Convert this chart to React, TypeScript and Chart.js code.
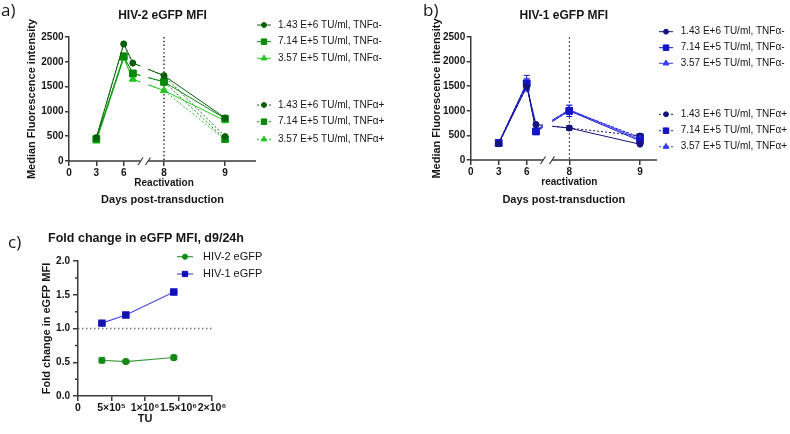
import React, { useEffect, useRef } from 'react';
import { Chart, registerables } from 'chart.js';
Chart.register(...registerables);

const FONT = "'Liberation Sans', Arial, Helvetica, sans-serif";
const AXIS = '#3a3a3a';
const TEXT = '#161616';

// ---------------- Data ----------------
const DAYS = [3, 6, 7, 8, 9];
const DAY_TICKS = [0, 3, 6, 8, 9];
const CONC_LABELS = ['1.43 E+6 TU/ml', '7.14 E+5 TU/ml', '3.57 E+5 TU/ml'];

// HIV-2 (panel a)
const HIV2_HIGH_NEG = [470, 2360, 1975, 1720, 870];
const HIV2_MID_NEG = [445, 2110, 1765, 1595, 855];
const HIV2_LOW_NEG = [405, 2075, 1650, 1420, 810];
const HIV2_HIGH_POS = [470, 2360, 1975, 1720, 495];
const HIV2_MID_POS = [445, 2110, 1765, 1595, 440];
const HIV2_LOW_POS = [405, 2075, 1650, 1420, 430];

// HIV-1 (panel b)
const HIV1_HIGH_NEG = [330, 1490, 720, 650, 320];
const HIV1_MID_NEG = [345, 1560, 580, 1000, 390];
const HIV1_LOW_NEG = [335, 1540, 610, 1020, 420];
const HIV1_HIGH_POS = [330, 1490, 720, 650, 490];
const HIV1_MID_POS = [345, 1560, 580, 1000, 465];
const HIV1_LOW_POS = [335, 1540, 610, 1020, 445];
const HIV1_HIGH_ERR = [15, 60, 30, 50, 20];
const HIV1_MID_ERR = [20, 160, 40, 115, 30];
const HIV1_LOW_ERR = [15, 120, 30, 90, 25];

// Fold change (panel c)
const FOLD_TU = [357000, 714000, 1430000];
const FOLD_HIV2 = [0.53, 0.51, 0.57];
const FOLD_HIV1 = [1.08, 1.2, 1.54];
const FOLD_HIV2_ERR = [0.04, 0.015, 0.035];
const FOLD_HIV1_ERR = [0.02, 0.015, 0.015];
const FOLD_X_TICKS = [0, 500000, 1000000, 1500000, 2000000];
const FOLD_X_LABELS = ['0', '5×10⁵', '1×10⁶', '1.5×10⁶', '2×10⁶'];

// ---------------- helpers ----------------
function drawMarker(ctx: CanvasRenderingContext2D, style: string, x: number, y: number, r: number, fill: string, stroke: string) {
  ctx.beginPath();
  if (style === 'rect') {
    const s = Math.SQRT1_2 * r;
    ctx.rect(x - s, y - s, 2 * s, 2 * s);
  } else if (style === 'triangle') {
    let rad = 0;
    ctx.moveTo(x + Math.sin(rad) * r, y - Math.cos(rad) * r);
    rad += (2 * Math.PI) / 3;
    ctx.lineTo(x + Math.sin(rad) * r, y - Math.cos(rad) * r);
    rad += (2 * Math.PI) / 3;
    ctx.lineTo(x + Math.sin(rad) * r, y - Math.cos(rad) * r);
    ctx.closePath();
  } else {
    ctx.arc(x, y, r, 0, Math.PI * 2);
  }
  ctx.fillStyle = fill;
  ctx.fill();
  ctx.strokeStyle = stroke;
  ctx.lineWidth = 1;
  ctx.stroke();
}

function drawLegend(ctx: CanvasRenderingContext2D, datasets: any[], rows: number[], x1: number, x2: number, tx: number, size: number) {
  datasets.forEach((ds, i) => {
    const y = rows[i];
    ctx.save();
    ctx.strokeStyle = ds.borderColor;
    ctx.lineWidth = ds.borderWidth;
    ctx.setLineDash(ds.borderDash || []);
    ctx.beginPath();
    ctx.moveTo(x1, y);
    ctx.lineTo(x2, y);
    ctx.stroke();
    ctx.setLineDash([]);
    drawMarker(ctx, ds.pointStyle, (x1 + x2) / 2, y, ds.pointRadius * 0.85, ds.pointBackgroundColor, ds.pointBorderColor);
    ctx.fillStyle = TEXT;
    ctx.font = `${size}px ${FONT}`;
    ctx.textBaseline = 'middle';
    ctx.textAlign = 'left';
    ctx.fillText(ds.label, tx, y);
    ctx.restore();
  });
}

function drawErrorBars(chart: any, cap: number) {
  const ctx = chart.ctx;
  const ys = chart.scales.y;
  chart.data.datasets.forEach((ds: any, i: number) => {
    const errs = ds.errorBars;
    if (!errs) return;
    const meta = chart.getDatasetMeta(i);
    ctx.save();
    ctx.strokeStyle = ds.errorColor || ds.borderColor;
    ctx.lineWidth = 1;
    meta.data.forEach((pt: any, j: number) => {
      const e = errs[j];
      if (!e) return;
      const v = ds.data[j].y;
      const y1 = ys.getPixelForValue(v + e);
      const y2 = ys.getPixelForValue(v - e);
      const x = pt.x;
      ctx.beginPath();
      ctx.moveTo(x, y1); ctx.lineTo(x, y2);
      ctx.moveTo(x - cap, y1); ctx.lineTo(x + cap, y1);
      ctx.moveTo(x - cap, y2); ctx.lineTo(x + cap, y2);
      ctx.stroke();
    });
    ctx.restore();
  });
}

interface TimePanel {
  width: number; height: number;
  area: { left: number; top: number; right: number; bottom: number };
  title: string; letter: string; letterX: number; letterY: number;
  reactLabel: string;
  colors: string[];
  series: number[][];
  errs: (number[] | null)[];
  B: number; K: number; xMax: number; gap: [number, number];
  vDash: number[]; vWidth: number;
  legendRows: number[]; legendX1: number; legendX2: number; legendTX: number;
  yTitlePad: number;
}

const PANEL_A: TimePanel = {
  width: 390, height: 215,
  area: { left: 69, top: 37, right: 256, bottom: 161 },
  title: 'HIV-2 eGFP MFI', letter: 'a)', letterX: 1, letterY: 11,
  reactLabel: 'Reactivation',
  colors: ['#0b600b', '#0a880a', '#22c822'],
  series: [HIV2_HIGH_NEG, HIV2_MID_NEG, HIV2_LOW_NEG, HIV2_HIGH_POS, HIV2_MID_POS, HIV2_LOW_POS],
  errs: [null, null, null, null, null, null],
  B: 10.42, K: 6.69, xMax: 20.5, gap: [7.84, 8.66],
  vDash: [1.4, 2.4], vWidth: 1.3,
  legendRows: [25, 41.7, 58.3, 105, 121.7, 139.3], legendX1: 257, legendX2: 271, legendTX: 278,
  yTitlePad: 25.4,
};

const PANEL_B: TimePanel = {
  width: 400, height: 215,
  area: { left: 80.7, top: 37, right: 267, bottom: 160 },
  title: 'HIV-1 eGFP MFI', letter: 'b)', letterX: 33, letterY: 11,
  reactLabel: 'reactivation',
  colors: ['#14147a', '#1414c6', '#3a3aff'],
  series: [HIV1_HIGH_NEG, HIV1_MID_NEG, HIV1_LOW_NEG, HIV1_HIGH_POS, HIV1_MID_POS, HIV1_LOW_POS],
  errs: [HIV1_HIGH_ERR, HIV1_MID_ERR, HIV1_LOW_ERR, null, null, null],
  B: 10.57, K: 7.58, xMax: 19.97, gap: [7.75, 8.71],
  vDash: [2, 2], vWidth: 0.8,
  legendRows: [31.7, 47.7, 63.3, 114.3, 130.7, 146.7], legendX1: 269, legendX2: 283, legendTX: 290.7,
  yTitlePad: 40.1,
};

function makeTimeChart(canvas: HTMLCanvasElement, o: TimePanel) {
  const map = (d: number) => (d < 7.5 ? d : o.B + (d - 8) * o.K);
  const styles = ['circle', 'rect', 'triangle'];
  const radii = [2.9, 4.6, 3.9];
  const datasets = o.series.map((vals, i) => {
    const c = o.colors[i % 3];
    return {
      label: `${CONC_LABELS[i % 3]}, TNFα${i < 3 ? '-' : '+'}`,
      data: DAYS.map((d, j) => ({ x: map(d), y: vals[j] })),
      borderColor: c,
      backgroundColor: c,
      borderWidth: 1,
      borderDash: i < 3 ? [] : [2, 2],
      pointStyle: styles[i % 3],
      pointRadius: radii[i % 3],
      pointBorderWidth: 1,
      pointBackgroundColor: c,
      pointBorderColor: c,
      errorBars: o.errs[i],
      tension: 0,
    };
  });
  const tickLabels: any[] = ['0', '3', '6', ['8', o.reactLabel], '9'];

  const plugin = {
    id: 'timePanel' + o.letter,
    beforeDatasetsDraw(chart: any) {
      const ctx = chart.ctx;
      const ca = chart.chartArea;
      const x8 = chart.scales.x.getPixelForValue(map(8));
      ctx.save();
      ctx.strokeStyle = '#111';
      ctx.lineWidth = o.vWidth;
      ctx.setLineDash(o.vDash);
      ctx.beginPath();
      ctx.moveTo(x8, ca.top);
      ctx.lineTo(x8, ca.bottom);
      ctx.stroke();
      ctx.restore();
      drawErrorBars(chart, 3);
    },
    afterDatasetsDraw(chart: any) {
      const ctx = chart.ctx;
      const ca = chart.chartArea;
      const xs = chart.scales.x;
      const g1 = xs.getPixelForValue(o.gap[0]);
      const g2 = xs.getPixelForValue(o.gap[1]);
      ctx.save();
      ctx.fillStyle = '#fff';
      ctx.fillRect(g1, ca.top - 6, g2 - g1, ca.bottom - ca.top + 7);
      ctx.strokeStyle = AXIS;
      ctx.lineWidth = 1.5;
      ctx.beginPath();
      ctx.moveTo(ca.left - 0.75, ca.bottom);
      ctx.lineTo(g1, ca.bottom);
      ctx.moveTo(g2, ca.bottom);
      ctx.lineTo(ca.right, ca.bottom);
      ctx.stroke();
      ctx.lineWidth = 1.2;
      ctx.beginPath();
      [g1, g2].forEach((g) => {
        ctx.moveTo(g - 2.5, ca.bottom + 4);
        ctx.lineTo(g + 2.5, ca.bottom - 3.5);
      });
      ctx.stroke();
      ctx.restore();
    },
    afterDraw(chart: any) {
      const ctx = chart.ctx;
      const ca = chart.chartArea;
      ctx.save();
      ctx.fillStyle = TEXT;
      ctx.textBaseline = 'middle';
      ctx.textAlign = 'center';
      ctx.font = `bold 12px ${FONT}`;
      ctx.fillText(o.title, (ca.left + ca.right) / 2, 16);
      ctx.textAlign = 'left';
      ctx.font = `17px 'Open Sans', ${FONT}`;
      ctx.fillText(o.letter, o.letterX, o.letterY);
      ctx.restore();
      drawLegend(ctx, chart.data.datasets, o.legendRows, o.legendX1, o.legendX2, o.legendTX, 10);
    },
  };

  return new Chart(canvas, {
    type: 'line',
    data: { datasets: datasets as any },
    plugins: [plugin],
    options: {
      animation: false,
      responsive: false,
      events: [],
      layout: { padding: { left: 0, top: o.area.top, right: o.width - o.area.right, bottom: 0 } },
      plugins: { legend: { display: false }, tooltip: { enabled: false }, title: { display: false } },
      scales: {
        x: {
          type: 'linear',
          min: 0,
          max: o.xMax,
          afterBuildTicks: (s: any) => {
            s.ticks = DAY_TICKS.map((d) => ({ value: map(d) }));
          },
          afterFit: (s: any) => {
            s.height = o.height - o.area.bottom;
          },
          grid: { display: true, drawOnChartArea: false, drawTicks: true, tickLength: 5, color: AXIS, lineWidth: 1.5 },
          border: { display: false },
          ticks: {
            autoSkip: false,
            maxRotation: 0,
            padding: 2,
            color: TEXT,
            font: { family: FONT, size: 10, weight: 'bold', lineHeight: 1.0 },
            callback: (_v: any, i: number) => tickLabels[i],
          },
          title: {
            display: true,
            text: 'Days post-transduction',
            color: TEXT,
            font: { family: FONT, size: 11, weight: 'bold', lineHeight: 1.2 },
            padding: { top: 0, bottom: 8.4 },
          },
        },
        y: {
          min: 0,
          max: 2500,
          afterFit: (s: any) => {
            s.width = o.area.left;
          },
          grid: { display: true, drawOnChartArea: false, drawTicks: true, tickLength: 4, color: AXIS, lineWidth: 1.5 },
          border: { display: true, color: AXIS, width: 1.5 },
          ticks: {
            stepSize: 500,
            padding: 1.5,
            color: TEXT,
            font: { family: FONT, size: 10, weight: 'bold' },
            callback: (v: any) => String(v),
          },
          title: {
            display: true,
            text: 'Median Fluorescence intensity',
            color: TEXT,
            font: { family: FONT, size: 11, weight: 'bold', lineHeight: 1.2 },
            padding: { top: o.yTitlePad, bottom: 0 },
          },
        },
      },
    } as any,
  });
}

function makeFoldChart(canvas: HTMLCanvasElement) {
  const W = 280, H = 219;
  const area = { left: 78, top: 46, right: 212, bottom: 181 };
  const datasets = [
    {
      label: 'HIV-2 eGFP',
      data: FOLD_TU.map((x, i) => ({ x, y: FOLD_HIV2[i] })),
      borderColor: '#3a9a3a',
      borderWidth: 1.2,
      pointStyle: 'circle',
      pointRadius: 3,
      pointBackgroundColor: '#128a12',
      pointBorderColor: '#128a12',
      errorBars: FOLD_HIV2_ERR,
      errorColor: '#7cc87c',
      tension: 0,
    },
    {
      label: 'HIV-1 eGFP',
      data: FOLD_TU.map((x, i) => ({ x, y: FOLD_HIV1[i] })),
      borderColor: '#4b4be2',
      borderWidth: 1.2,
      pointStyle: 'rect',
      pointRadius: 4.4,
      pointBackgroundColor: '#1010b4',
      pointBorderColor: '#1010b4',
      errorBars: FOLD_HIV1_ERR,
      errorColor: '#6b6bf0',
      tension: 0,
    },
  ];
  const plugin = {
    id: 'foldPanel',
    beforeDatasetsDraw(chart: any) {
      const ctx = chart.ctx;
      const ca = chart.chartArea;
      const ys = chart.scales.y;
      const y1 = ys.getPixelForValue(1);
      ctx.save();
      ctx.strokeStyle = '#666';
      ctx.lineWidth = 1.3;
      ctx.setLineDash([1.4, 2.6]);
      ctx.beginPath();
      ctx.moveTo(ca.left, y1);
      ctx.lineTo(ca.right, y1);
      ctx.stroke();
      ctx.setLineDash([]);
      ctx.strokeStyle = AXIS;
      ctx.lineWidth = 1.5;
      ctx.beginPath();
      [0.25, 0.75, 1.25, 1.75].forEach((v) => {
        const y = ys.getPixelForValue(v);
        ctx.moveTo(ca.left - 3, y);
        ctx.lineTo(ca.left, y);
      });
      ctx.stroke();
      ctx.restore();
      drawErrorBars(chart, 4);
    },
    afterDraw(chart: any) {
      const ctx = chart.ctx;
      const ca = chart.chartArea;
      ctx.save();
      ctx.fillStyle = TEXT;
      ctx.textBaseline = 'middle';
      ctx.textAlign = 'center';
      ctx.font = `bold 12.5px ${FONT}`;
      ctx.fillText('Fold change in eGFP MFI, d9/24h', (ca.left + ca.right) / 2 + 1, 24);
      ctx.textAlign = 'left';
      ctx.font = `17px 'Open Sans', ${FONT}`;
      ctx.fillText('c)', 8, 28);
      ctx.restore();
      drawLegend(ctx, chart.data.datasets, [41.7, 59], 177, 193, 203, 11);
    },
  };
  return new Chart(canvas, {
    type: 'line',
    data: { datasets: datasets as any },
    plugins: [plugin],
    options: {
      animation: false,
      responsive: false,
      events: [],
      layout: { padding: { left: 0, top: area.top, right: W - area.right, bottom: 0 } },
      plugins: { legend: { display: false }, tooltip: { enabled: false }, title: { display: false } },
      scales: {
        x: {
          type: 'linear',
          min: 0,
          max: 2000000,
          afterBuildTicks: (s: any) => {
            s.ticks = FOLD_X_TICKS.map((v) => ({ value: v }));
          },
          afterFit: (s: any) => {
            s.height = H - area.bottom;
          },
          grid: { display: true, drawOnChartArea: false, drawTicks: true, tickLength: 5, color: AXIS, lineWidth: 1.5 },
          border: { display: true, color: AXIS, width: 1.5 },
          ticks: {
            autoSkip: false,
            maxRotation: 0,
            padding: 1,
            color: TEXT,
            font: { family: FONT, size: 10.5, weight: 'bold' },
            callback: (_v: any, i: number) => FOLD_X_LABELS[i],
          },
          title: {
            display: true,
            text: 'TU',
            color: TEXT,
            font: { family: FONT, size: 11, weight: 'bold', lineHeight: 1.2 },
            padding: { top: 0, bottom: 8.4 },
          },
        },
        y: {
          min: 0,
          max: 2,
          afterFit: (s: any) => {
            s.width = area.left;
          },
          grid: { display: true, drawOnChartArea: false, drawTicks: true, tickLength: 5, color: AXIS, lineWidth: 1.5 },
          border: { display: true, color: AXIS, width: 1.5 },
          ticks: {
            stepSize: 0.5,
            padding: 3,
            color: TEXT,
            font: { family: FONT, size: 10, weight: 'bold' },
            callback: (v: any) => Number(v).toFixed(1),
          },
          title: {
            display: true,
            text: 'Fold change in eGFP MFI',
            color: TEXT,
            font: { family: FONT, size: 11, weight: 'bold', lineHeight: 1.2 },
            padding: { top: 40.4, bottom: 0 },
          },
        },
      },
    } as any,
  });
}

export default function App() {
  const refA = useRef<HTMLCanvasElement>(null);
  const refB = useRef<HTMLCanvasElement>(null);
  const refC = useRef<HTMLCanvasElement>(null);
  useEffect(() => {
    document.body.style.margin = '0';
    const charts = [
      makeTimeChart(refA.current!, PANEL_A),
      makeTimeChart(refB.current!, PANEL_B),
      makeFoldChart(refC.current!),
    ];
    return () => charts.forEach((c) => c.destroy());
  }, []);
  return (
    <div style={{ position: 'relative', width: 790, height: 434, background: '#fff', overflow: 'hidden' }}>
      <canvas ref={refA} width={390} height={215} style={{ position: 'absolute', left: 0, top: 0 }} />
      <canvas ref={refB} width={400} height={215} style={{ position: 'absolute', left: 390, top: 0 }} />
      <canvas ref={refC} width={280} height={219} style={{ position: 'absolute', left: 0, top: 215 }} />
    </div>
  );
}
